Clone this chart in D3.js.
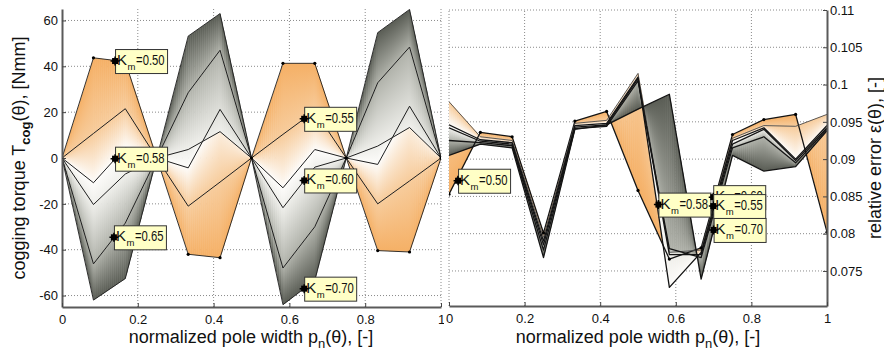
<!DOCTYPE html>
<html><head><meta charset="utf-8">
<script src="https://cdn.jsdelivr.net/npm/d3@7"></script>
<style>
body{margin:0;background:#fff;}
text{font-family:"Liberation Sans",Arial,Helvetica,sans-serif;fill:#111;}
</style>
</head><body>
<svg id="c" width="884" height="356"></svg>
<script>
// ---------------- data ----------------
const polePos = [0, 0.083, 0.167, 0.25, 0.333, 0.417, 0.5, 0.583, 0.667, 0.75, 0.833, 0.917, 1.0];
const kmNames = ["0.50", "0.55", "0.58", "0.60", "0.65", "0.70"];

// cogging torque [Nmm]
const torque050 = [0, 43.7, 42.0, 0, -42.0, -43.5, 0, 41.3, 41.3, 0, -40.4, -41.0, 0];
const torque055 = [0, 10.7, 21.5, 0, -21.0, -10.5, 0, 10.3, 20.5, 0, -20.0, -10.0, 0];
const torque058 = [0, -10.8, 4.5, 0, -4.3, 21.2, 0, -13.0, 3.7, 0, -2.8, 22.6, 0];
const torque060 = [0, -20.3, -7.0, 0, 3.7, 11.5, 0, -21.7, -4.0, 0, 5.2, 13.3, 0];
const torque065 = [0, -46.2, -28.4, 0, 28.5, 47.0, 0, -48.0, -30.0, 0, 32.8, 48.4, 0];
const torque070 = [0, -62.0, -52.6, 0, 53.2, 63.0, 0, -64.0, -53.4, 0, 54.7, 64.8, 0];

// relative error [-]
const error050 = [0.0853, 0.0936, 0.0930, 0.0801, 0.0951, 0.0964, 0.0858, 0.0766, 0.0781, 0.0933, 0.0953, 0.0960, 0.0802];
const error055 = [0.0977, 0.0930, 0.0925, 0.0795, 0.0948, 0.0952, 0.1015, 0.0775, 0.0778, 0.0928, 0.0945, 0.0944, 0.0960];
const error058 = [0.0946, 0.0926, 0.0922, 0.0790, 0.0945, 0.0948, 0.1010, 0.0728, 0.0775, 0.0925, 0.0942, 0.0900, 0.0945];
const error060 = [0.0942, 0.0924, 0.0920, 0.0785, 0.0943, 0.0946, 0.1008, 0.0772, 0.0772, 0.0920, 0.0940, 0.0898, 0.0942];
const error065 = [0.0925, 0.0922, 0.0918, 0.0778, 0.0941, 0.0944, 0.1005, 0.0780, 0.0768, 0.0915, 0.0930, 0.0895, 0.0940];
const error070 = [0.0905, 0.0920, 0.0915, 0.0768, 0.0940, 0.0946, 0.0967, 0.0987, 0.0739, 0.0905, 0.0884, 0.0890, 0.0938];

// data-tip annotations
const torqueTipKm = ["0.50", "0.58", "0.65", "0.55", "0.60", "0.70"];
const torqueTipPos = [0.14, 0.14, 0.137, 0.639, 0.639, 0.639];
const torqueTipVal = [42.3, -0.3, -34.6, 17.1, -9.8, -57.0];
const errorTipKm = ["0.50", "0.58", "0.60", "0.55", "0.70"];
const errorTipPos = [0.024, 0.554, 0.699, 0.699, 0.70];
const errorTipVal = [0.0871, 0.0839, 0.0849, 0.0837, 0.0805];

// ticks
const posTicks = [0, 0.2, 0.4, 0.6, 0.8, 1];
const posTickLabels = ["0", "0.2", "0.4", "0.6", "0.8", "1"];
const torqueTicks = [-60, -40, -20, 0, 20, 40, 60];
const torqueTickLabels = ["-60", "-40", "-20", "0", "20", "40", "60"];
const errorTicks = [0.075, 0.08, 0.085, 0.09, 0.095, 0.1, 0.105, 0.11];
const errorTickLabels = ["0.075", "0.08", "0.085", "0.09", "0.095", "0.1", "0.105", "0.11"];

// ---------------- style ----------------
const kmColors = ["#F5B066", "#F7CC9C", "#FDFCFA", "#EFEFEB", "#B0B2AA", "#5A5D55"];
const torqueSeries = [torque050, torque055, torque058, torque060, torque065, torque070];
const errorSeries = [error050, error055, error058, error060, error065, error070];

const svg = d3.select("#c");
const defs = svg.append("defs");

const xL = d3.scaleLinear().domain([0, 1]).range([62, 441]);
const yL = d3.scaleLinear().domain([-65, 65]).range([307, 9]);
const xR = d3.scaleLinear().domain([0, 1]).range([449, 827]);
const yR = d3.scaleLinear().domain([0.0703, 0.11]).range([306, 10]);

let gradCount = 0;
function drawBands(g, xs, ys, series, colors, S) {
  for (let b = 0; b < series.length - 1; b++) {
    const A = series[b], B = series[b + 1];
    for (let k = 0; k < polePos.length - 1; k++) {
      for (let s = 0; s < S; s++) {
        const t0 = s / S, t1 = (s + 1) / S, tm = (s + 0.5) / S;
        const lp = (arr, t) => arr[k] + (arr[k + 1] - arr[k]) * t;
        const xp = t => xs(polePos[k] + (polePos[k + 1] - polePos[k]) * t);
        const px0 = xp(t0), px1 = xp(t1) + 0.5, pm = xp(tm);
        const a0 = ys(lp(A, t0)), a1 = ys(lp(A, t1)), b0 = ys(lp(B, t0)), b1 = ys(lp(B, t1));
        const am = ys(lp(A, tm));
        let bm = ys(lp(B, tm));
        if (Math.abs(bm - am) < 0.05) bm = am + 0.05;
        const id = "g" + (gradCount++);
        const gr = defs.append("linearGradient").attr("id", id).attr("gradientUnits", "userSpaceOnUse")
          .attr("x1", pm).attr("x2", pm).attr("y1", am).attr("y2", bm);
        gr.append("stop").attr("offset", 0).attr("stop-color", colors[b]);
        gr.append("stop").attr("offset", 1).attr("stop-color", colors[b + 1]);
        g.append("path")
          .attr("d", `M${px0},${a0}L${px1},${a1}L${px1},${b1}L${px0},${b0}Z`)
          .attr("fill", `url(#${id})`);
      }
    }
  }
}

function drawTip(g, px, py, km) {
  const t = g.append("g").attr("transform", `translate(${px},${py})`);
  t.append("rect").attr("x", 0.5).attr("y", -11.5).attr("width", 52).attr("height", 24)
    .attr("fill", "#FFFFC6").attr("stroke", "#333").attr("stroke-width", 1);
  t.append("text").attr("x", 2).attr("y", 4).attr("font-size", 15).text("K");
  t.append("text").attr("x", 12.5).attr("y", 9).attr("font-size", 9.5).text("m");
  t.append("text").attr("x", 21).attr("y", 4).attr("font-size", 14)
    .attr("textLength", 28.5).attr("lengthAdjust", "spacingAndGlyphs").text("=" + km);
  t.append("rect").attr("x", -3).attr("y", -3).attr("width", 6).attr("height", 6).attr("fill", "#000");
  t.append("path").attr("d", "M-4.5,0H4.5M0,-4.5V4.5").attr("stroke", "#000").attr("stroke-width", 1.5);
}

function gridLines(g, xs, ys, vx, hy) {
  const x0 = xs.range()[0], x1 = xs.range()[1], y0 = ys.range()[0], y1 = ys.range()[1];
  g.selectAll(null).data(vx).enter().append("line")
    .attr("x1", d => xs(d)).attr("x2", d => xs(d)).attr("y1", y0).attr("y2", y1)
    .attr("stroke", "#8a8a8a").attr("stroke-width", 1).attr("stroke-dasharray", "1,2");
  g.selectAll(null).data(hy).enter().append("line")
    .attr("x1", x0).attr("x2", x1).attr("y1", d => ys(d)).attr("y2", d => ys(d))
    .attr("stroke", "#8a8a8a").attr("stroke-width", 1).attr("stroke-dasharray", "1,2");
}

// ---------------- left panel ----------------
const gLeft = svg.append("g");
gridLines(gLeft, xL, yL, posTicks.slice(1), torqueTicks);
defs.append("clipPath").attr("id", "clipL").append("rect").attr("x", 62).attr("y", 9).attr("width", 379).attr("height", 298);
const gLD = gLeft.append("g").attr("clip-path", "url(#clipL)");
drawBands(gLD, xL, yL, torqueSeries, kmColors, 16);
const lineL = d3.line().x((d, i) => xL(polePos[i])).y(d => yL(d));
torqueSeries.forEach((s, i) => {
  gLD.append("path").attr("d", lineL(s)).attr("fill", "none")
    .attr("stroke", "#1e1e1e").attr("stroke-width", (i === 0 || i === 5) ? 0.9 : 1).attr("stroke-linejoin", "round");
});
gLD.selectAll(null).data(torque050).enter().append("circle")
  .attr("cx", (d, i) => xL(polePos[i])).attr("cy", d => yL(d)).attr("r", 1.6).attr("fill", "#000");

const axLy = gLeft.append("g").attr("transform", "translate(62,0)")
  .call(d3.axisLeft(yL).tickValues(torqueTicks).tickFormat((d, i) => torqueTickLabels[i]).tickSizeInner(-4).tickSizeOuter(0).tickPadding(4));
const axLx = gLeft.append("g").attr("transform", "translate(0,307)")
  .call(d3.axisBottom(xL).tickValues(posTicks).tickFormat((d, i) => posTickLabels[i]).tickSizeInner(-4).tickSizeOuter(0).tickPadding(8));
[axLy, axLx].forEach(a => {
  a.select(".domain").attr("stroke", "#5a5a5a").attr("stroke-width", 2);
  a.selectAll(".tick line").attr("stroke", "#444");
  a.selectAll("text").attr("font-size", 13).attr("font-family", "'Liberation Sans',Arial,sans-serif").attr("fill", "#111");
});

torqueTipKm.forEach((k, i) => drawTip(gLeft, xL(torqueTipPos[i]), yL(torqueTipVal[i]), k));

// ---------------- right panel ----------------
const gRight = svg.append("g");
gRight.append("rect").attr("x", 444).attr("y", 0).attr("width", 440).attr("height", 356).attr("fill", "#fff");
gridLines(gRight, xR, yR, posTicks.slice(0, 5), errorTicks);
defs.append("clipPath").attr("id", "clipR").append("rect").attr("x", 449).attr("y", 10).attr("width", 378).attr("height", 296);
const gRD = gRight.append("g").attr("clip-path", "url(#clipR)");
drawBands(gRD, xR, yR, errorSeries, kmColors, 16);
const lineR = d3.line().x((d, i) => xR(polePos[i])).y(d => yR(d));
errorSeries.forEach((s, i) => {
  gRD.append("path").attr("d", lineR(s)).attr("fill", "none")
    .attr("stroke", i === 1 ? "#4a4a4a" : "#141414").attr("stroke-width", i === 1 ? 0.9 : 1.3).attr("stroke-linejoin", "round");
});
gRD.selectAll(null).data(error050).enter().append("circle")
  .attr("cx", (d, i) => xR(polePos[i])).attr("cy", d => yR(d)).attr("r", 1.6).attr("fill", "#000");

const axRy = gRight.append("g").attr("transform", "translate(827,0)")
  .call(d3.axisRight(yR).tickValues(errorTicks).tickFormat((d, i) => errorTickLabels[i]).tickSizeInner(-4).tickSizeOuter(0).tickPadding(3));
const axRx = gRight.append("g").attr("transform", "translate(0,306)")
  .call(d3.axisBottom(xR).tickValues(posTicks).tickFormat((d, i) => posTickLabels[i]).tickSizeInner(-4).tickSizeOuter(0).tickPadding(8));
[axRy, axRx].forEach(a => {
  a.select(".domain").attr("stroke", "#5a5a5a").attr("stroke-width", 2);
  a.selectAll(".tick line").attr("stroke", "#444");
  a.selectAll("text").attr("font-size", 13).attr("font-family", "'Liberation Sans',Arial,sans-serif").attr("fill", "#111");
});

errorTipKm.forEach((k, i) => drawTip(gRight, xR(errorTipPos[i]), yR(errorTipVal[i]), k));

// ---------------- titles ----------------
function xTitle(cx) {
  const t = svg.append("text").attr("x", cx).attr("y", 343).attr("text-anchor", "middle").attr("font-size", 18);
  t.append("tspan").text("normalized pole width p");
  t.append("tspan").attr("dy", 5).attr("font-size", 13).text("n");
  t.append("tspan").attr("dy", -5).text("(θ), [-]");
}
xTitle(251);
xTitle(638);

const yt1 = svg.append("text").attr("transform", "translate(25,158) rotate(-90)").attr("text-anchor", "middle").attr("font-size", 18);
yt1.append("tspan").text("cogging torque T");
yt1.append("tspan").attr("dy", 5).attr("font-size", 13).attr("font-weight", "bold").text("cog");
yt1.append("tspan").attr("dy", -5).text("(θ), [Nmm]");

svg.append("text").attr("transform", "translate(881,158) rotate(-90)").attr("text-anchor", "middle").attr("font-size", 18)
  .text("relative error ε(θ), [-]");
</script>
</body></html>
